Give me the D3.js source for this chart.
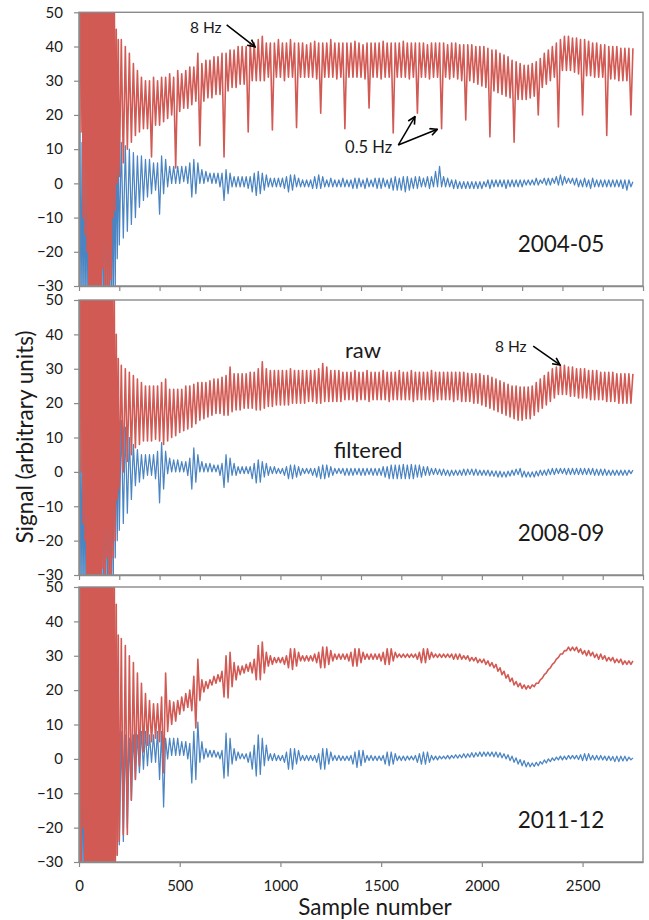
<!DOCTYPE html>
<html>
<head>
<meta charset="utf-8">
<script src="https://cdn.jsdelivr.net/npm/d3@7"></script>
<style>
  body { margin: 0; background: #fff; }
  text { font-family: Lato, "Open Sans", sans-serif; fill: #1a1a1a; }
</style>
</head>
<body>
<script>
// hand-read traces: dense samples at the onset, then one trough and one
// crest per 20 samples (trough at s, crest at s + 10)
const onsetStep = 5;      // samples 0..195
const mainStart = 200;
const pairStep = 20;      // samples 200..2750

const periods = ["2004-05", "2008-09", "2011-12"];
const yTicks = [-30, -20, -10, 0, 10, 20, 30, 40, 50];
const xTicksMinor = [0, 200, 400, 600, 800, 1000, 1200, 1400, 1600, 1800, 2000, 2200, 2400, 2600, 2800];
const xTickLabels = [0, 500, 1000, 1500, 2000, 2500];

// ---- 2004-05 ----
const raw0405Onset = [25, 90, 15, 90, -10, 90, -15, 90, -20, 90,
  -60, 90, -60, 90, -60, 90, -60, 90, -60, 90,
  -60, 90, -60, 90, -25, 90, -60, 90, -30, 90,
  -60, 85, -28, 70, -10, 60, -8, 45, 0, 42];
const raw0405Low = [2, 6, 10, 12, 14, 15, 16, 16, 7.7, 17,
  17, 18, 19, 20, 4.5, 21, 22, 22, 23, 24,
  11, 24, 25, 25, 26, 26, 7.7, 27, 28, 28,
  29, 29, 15, 30, 30, 30, 30, 31, 15.6, 31,
  31, 30, 31, 31, 16.3, 31, 31, 31, 31, 30.5,
  20.5, 31, 31, 31, 30.5, 31, 16, 31, 31, 31,
  31, 30.5, 22, 31, 31, 30.5, 31, 31, 14.7, 31,
  31, 31, 30.5, 31, 20.5, 31, 31, 30.5, 31, 31,
  16, 31, 30.5, 31, 30.5, 30, 18.5, 30, 29.5, 29,
  28.5, 28, 13.6, 27, 26.5, 26, 25.5, 25, 12, 24.5,
  24.5, 24.5, 25, 25.5, 20, 28, 29, 30, 31, 16.5,
  33, 33, 33, 32.5, 32, 20, 31.5, 31.5, 31, 31,
  31, 14, 30.5, 30.5, 30, 30, 30, 20];
const raw0405High = [42, 40, 38, 35, 33, 31, 30, 30, 31, 30,
  31, 31, 32, 31, 33, 32, 33, 34, 34, 38,
  35, 36, 36, 37, 37, 38, 38, 39, 39, 40,
  40, 40, 41, 41, 42, 43, 41, 41, 41, 42,
  41, 41, 42, 41, 41, 41, 40.5, 41, 41.5, 41,
  41, 41, 42, 41, 41, 41, 41, 41, 41.5, 41,
  40.5, 41, 41, 41, 41, 41.5, 41, 41, 41, 41,
  41.5, 41, 41, 41, 41, 41, 40.5, 41, 41, 41,
  41, 40.5, 41, 41, 40.5, 40.5, 40.5, 40.5, 40, 40,
  40, 39.5, 39, 39, 38, 37.5, 37, 36, 35.5, 35,
  34.5, 34.5, 35, 35.5, 36.5, 38, 39, 40, 41, 42,
  43, 43, 42.5, 42.5, 42, 42, 41.5, 41, 41, 40.5,
  40.5, 40, 40, 40, 39.5, 39.5, 39.5, 39.5];
const filt0405Onset = [-5, 15, -40, 12, -40, 10, -40, 6, -40, 9,
  -40, 11, -40, 8, -40, 12, -40, 10, -40, 9,
  -40, 11, -40, 8, -40, 12, -40, 10, -40, 9,
  -40, 11, -40, 8, -40, 12, -30, 14, -22, 13];
const filt0405Low = [-18, -16, -14, -12, -10, -7, -5, -4, -3, -2,
  -9, -3, -1, 0, 0, 0, 0.5, 0, -4, -3,
  0, 0, 0.5, 0, 0, -1, -5, -3, -1, -1,
  -1, -1, -1.5, -2.5, -3.5, -3, -2, -1, -1, -1,
  -1, -1.5, -2.5, -2, -1, -1, -1, -1, -1.5, -1.5,
  -1.5, -1, -1, -1, -1, -1, -1, -1, -1.5, -1.5,
  -1, -1.5, -1, -1, -1.5, -1.5, -1, -1.5, -2, -2,
  -2, -2.5, -2, -1.5, -1.5, -1, -1, -1.5, -1, -1,
  -1, -1, -1, -1.5, -1.5, -1.5, -1.5, -1.5, -1.5, -1.5,
  -1.5, -1, -1.5, -1, -1, -1, -1.5, -1, -1, -1,
  -1, -0.5, -0.5, -0.5, -0.5, 0, -0.5, -0.5, 0, -0.5,
  -0.5, 0, 0, -0.5, -1, -1, -1, -1.5, -1, -1,
  -1, -1, -1, -1, -1, -1.5, -2, -1];
const filt0405High = [12, 11, 10, 9, 8, 8, 7, 7, 6, 6,
  8, 7, 5, 5, 5, 5, 5, 6, 7, 6,
  4, 3.5, 3, 3, 3, 3, 4, 3, 2, 2,
  2, 2, 2, 3, 3.5, 3, 2.5, 1.5, 1.5, 1.5,
  1.5, 2, 2.5, 2.5, 1.5, 1, 1, 1, 2, 2.5,
  2, 1, 1.5, 1, 1, 1.5, 1, 1, 1.5, 1.5,
  1, 1.5, 1, 1.5, 1.5, 1.5, 1, 1.5, 2, 1.5,
  2, 2, 1.5, 2, 2, 1.5, 2, 2, 3.5, 5,
  2, 1.5, 1, 1, 0.5, 0.5, 0.5, 0.5, 0.5, 0.5,
  0.5, 1, 1, 1, 1, 1, 1, 1, 1, 1,
  1, 1, 1, 1.5, 1, 1.5, 1.5, 1.5, 2, 2.5,
  2, 1.5, 1.5, 1.5, 1, 1.5, 1, 1.5, 1, 1,
  1, 1, 1, 1, 1, 1, 1, 0.5];

// ---- 2008-09 ----
const raw0809Onset = [10, 90, 0, 90, -15, 90, -20, 90, -60, 90,
  -60, 90, -60, 90, -60, 90, -60, 90, -60, 90,
  -60, 90, -60, 90, -28, 90, -60, 90, -25, 90,
  -60, 90, -30, 70, -25, 55, -20, 40, -8, 33];
const raw0809Low = [-5, 0, 3, 5, 7, 8, 9, 9, 9, 9.5,
  9, 8, 9, 10, 10.5, 11.5, 12, 12.5, 13, 14,
  15, 15.5, 16, 16.5, 17, 17, 16.5, 16.5, 17.5, 18,
  18, 18.5, 18.5, 18.5, 18, 18, 18.5, 19, 19, 19.5,
  19.5, 19.5, 19.5, 20, 20, 20, 20, 20.5, 20.5, 20,
  20, 20.5, 20.5, 20.5, 20.5, 20.5, 21, 21, 21, 20.5,
  21, 21, 20.5, 21, 21, 21, 21, 20.5, 21, 21,
  21, 21, 21, 20.5, 21, 21, 21, 21, 20.5, 21,
  21, 21, 21, 20.5, 21, 20.5, 20.5, 20.5, 20, 20,
  19.5, 19, 18.5, 18, 17.5, 17, 16.5, 16, 15.5, 15,
  15, 15.5, 15.5, 16.5, 17.5, 18.5, 19.5, 20.5, 21.5, 22.5,
  22.5, 22.5, 22, 22, 21.5, 21.5, 21.5, 21, 21, 21,
  21, 20.5, 20.5, 20.5, 20, 20, 20, 20];
const raw0809High = [31, 30, 29, 28, 27, 26, 25, 25, 25, 25,
  26, 27, 24, 24, 24, 24, 25, 25, 25.5, 26,
  26, 26, 26.5, 27, 27, 27.5, 28, 30.5, 28.5, 28.5,
  28.5, 28.5, 29, 29, 30, 32, 30, 29.5, 29.5, 29.5,
  29.5, 29.5, 30, 29.5, 29.5, 29.5, 29.5, 29.5, 29.5, 30,
  31.5, 30.5, 29.5, 29.5, 29.5, 29, 29, 29, 29.5, 29,
  29, 29.5, 29, 29, 29, 29.5, 29, 29, 29, 29.5,
  29, 29, 29.5, 29, 29, 29, 29, 29.5, 29, 29,
  29, 29, 29, 29, 29, 29, 28.7, 28.5, 28.5, 28.5,
  28, 28, 27.5, 27, 26.5, 26, 25.5, 25, 25, 24.7,
  24.7, 24.7, 25, 26, 27, 28, 29, 30, 30.5, 31,
  31, 30.5, 30.5, 30, 30, 30, 29.5, 29.5, 29.5, 29,
  29, 29, 29, 28.5, 28.5, 28.5, 28.5, 28.5];
const filt0809Onset = [0, 14, -40, 12, -40, 9, -40, 11, -40, 8,
  -40, 12, -40, 10, -40, 9, -40, 11, -40, 8,
  -40, 12, -40, 10, -40, 9, -40, 11, -40, 8,
  -40, 12, -40, 10, -35, 15, -25, 14, -20, 15];
const filt0809Low = [-17, -15, -12, -8, -4, -3, -2, -1, -1, -2,
  -9, -5, -0.5, 0, 0, 0, 0, -1, -5, -3,
  0, 0, 0, 0, 0, -1, -4.5, -3, -1, -1,
  -0.5, -0.5, -0.5, -2, -3.2, -3, -1.5, -1, -0.5, -0.5,
  -0.5, -1, -2, -2, -1.5, -1, -0.5, -0.5, -1, -1.5,
  -2, -2, -1.5, -1, -0.5, -0.5, -1, -1, -1, -0.8,
  -1, -1, -0.8, -1, -1, -1, -1.5, -2, -2, -2,
  -2, -2, -2, -2, -1.5, -1.5, -1, -1, -0.8, -0.8,
  -1, -1, -1.2, -1, -1, -1, -1, -0.8, -1, -1,
  -1, -1, -1.2, -1.3, -1.5, -1.5, -1.5, -1.2, -1, -0.8,
  -1.5, -1.5, -1.5, -1.5, -1.2, -1, -1, -0.8, -0.8, -0.5,
  -0.5, -0.8, -0.8, -0.8, -0.8, -0.8, -0.8, -0.8, -1, -1,
  -1, -1, -1, -1, -1, -1, -1, -0.5];
const filt0809High = [15, 13, 10, 8, 6.5, 5, 5, 5, 5, 6,
  8.5, 6, 4, 3.5, 3.5, 3, 3, 4, 7, 5,
  3, 2.5, 2.5, 2, 2, 2.5, 5, 4, 2.5, 1.5,
  1.5, 1.5, 1.5, 2.5, 3.5, 3, 2.5, 1.5, 1.5, 1,
  1, 1.5, 2, 2, 1.5, 1, 1, 1, 1, 1.5,
  2, 2, 1.5, 1, 1, 1, 1, 1, 1, 1,
  1, 1, 1, 1, 1, 1.5, 1.5, 2, 2, 2,
  2.2, 2, 2.2, 2, 2, 1.5, 1.5, 1, 1, 0.8,
  0.8, 0.5, 0.5, 0.5, 0.5, 0.8, 0.8, 0.8, 0.8, 0.5,
  0.5, 0.5, 0.3, 0.3, 0.2, 0, 0.2, 0.5, 0.8, 1,
  0.2, 0, 0, 0.2, 0.5, 0.5, 0.8, 1, 1, 1,
  1, 1, 1, 1, 1, 1, 1, 1, 0.8, 0.8,
  0.8, 0.5, 0.5, 0.5, 0.5, 0.5, 0.5, 0.5];

// ---- 2011-12 ----
const raw1112Onset = [20, 90, -60, 90, -20, 90, -60, 90, -60, 90,
  -60, 90, -60, 90, -60, 90, -60, 90, -60, 90,
  -60, 90, -60, 90, -60, 90, -60, 90, -60, 90,
  -60, 90, -60, 90, -60, 60, -40, 45, -28, 36];
const raw1112Low = [-24, -22, -22, -12, -6, -2, 2, 4, 5, 6,
  5, -4, 8, 10, 11, 13, 14, 15, 14, 9,
  17, 19.5, 20.5, 21.5, 22, 22.5, 18, 17.7, 21, 23,
  24.5, 25, 25.5, 25, 23, 23, 25, 27, 27.5, 28,
  28, 27.5, 26.5, 26, 27, 28.5, 28.5, 28.5, 28.5, 28,
  26.5, 26.5, 27.5, 28.5, 29, 29, 29, 28.5, 27, 27,
  28, 29, 29, 29, 29, 28.5, 27.5, 27.5, 28.5, 29.5,
  29.5, 29.5, 29.5, 29.5, 29, 28, 28, 29, 29.5, 29.5,
  29.5, 29.5, 29.5, 29, 29, 29, 29, 28.5, 28.5, 28,
  28, 27.5, 27, 26.5, 25.5, 24.5, 23.5, 22.5, 21.5, 21,
  20.5, 20.3, 20.5, 21, 22, 23.5, 25, 26.5, 28, 29.5,
  30.5, 31.5, 31.5, 31.5, 31, 30.5, 30, 30, 29.5, 29,
  29, 28.5, 28.5, 28, 28, 27.5, 27.5, 27.5];
const raw1112High = [35, 33, 30, 28, 25, 22, 19, 17, 16, 16,
  18, 25, 17, 16.5, 17, 18, 19, 20, 24, 29,
  23, 22.5, 23, 24, 24.5, 25.5, 30, 31, 28, 27,
  27, 27.5, 28, 29, 33, 34, 31, 30, 29.5, 29.5,
  29.5, 30, 32, 32, 31, 30, 30, 30, 30.5, 31,
  32.5, 32.5, 31.5, 30.5, 30.5, 30.5, 30.5, 31, 32, 32,
  31, 30.5, 30.5, 30.5, 30.5, 31, 32, 32, 31, 30.5,
  30.5, 30.5, 30.5, 30.5, 31, 32, 32, 31, 30.5, 30.5,
  30.5, 30.5, 30.5, 30.5, 30.5, 30, 30, 29.5, 29.5, 29,
  29, 28.5, 28, 27.5, 26.5, 25.5, 24.5, 23.5, 22.5, 22,
  21.5, 21.3, 21.5, 22, 23, 24.5, 26, 27.5, 29, 30.5,
  31.5, 32.5, 32.5, 32.5, 32, 31.5, 31.5, 31, 30.5, 30.5,
  30, 29.5, 29.5, 29, 29, 28.5, 28.5, 28.5];
const filt1112Onset = [0, 13, -20, 10, -40, 8, -40, 12, -40, 10,
  -40, 9, -40, 11, -40, 8, -40, 12, -40, 10,
  -40, 9, -40, 11, -40, 8, -40, 12, -40, 10,
  -40, 9, -40, 11, -35, 10, -30, 9, -28, 8];
const filt1112Low = [-25, -24, -20, -12, -6, -4, -3, -2, -1, -1,
  -6, -14, 0, 1, 1, 1, 1, 0, -7, -6,
  -1, 0, 0.5, 0.5, 0.5, 0, -5.6, -5, -1.5, -0.5,
  0, 0, -1, -3, -5, -4.5, -2, -0.5, -0.5, -0.5,
  -0.5, -1, -3, -3, -1.5, -0.5, -0.5, -0.5, -0.5, -1,
  -3, -3, -1.5, -0.5, -0.5, -0.5, -0.5, -0.5, -1.5, -2.5,
  -2, -1, -0.5, -0.5, -0.5, -0.5, -1.5, -2, -1.5, -0.5,
  -0.5, -0.5, -0.3, -0.3, -1, -1.5, -1.5, -1, -0.3, -0.3,
  0, 0, 0, 0.2, 0.2, 0.3, 0.3, 0.5, 0.5, 0.7,
  0.7, 0.8, 0.8, 0.6, 0.5, 0.3, 0, -0.5, -1, -1.5,
  -2, -2.3, -2.3, -2.2, -2, -1.5, -1.2, -0.8, -0.5, -0.3,
  -0.3, -0.2, 0, 0, -0.2, -0.5, -0.5, -0.3, -0.3, -0.3,
  -0.3, -0.5, -0.5, -0.8, -0.8, -0.6, -0.6, -0.3];
const filt1112High = [8, 7, 6, 7, 7, 8, 8, 7, 7, 8,
  8, 6, 6, 6, 6, 5, 5, 4.5, 8, 10.7,
  5, 3, 2.5, 2.5, 2, 2.5, 7.5, 6, 3, 2,
  1.5, 1.5, 2, 4, 7, 6, 4, 1.5, 1.5, 1,
  1, 2, 3, 3, 2.5, 1, 1, 1, 1, 1.5,
  3, 3, 2, 1, 1, 0.8, 0.8, 1, 2, 2.5,
  2.5, 1, 1, 0.8, 0.8, 1, 2, 2, 1.5, 0.8,
  0.8, 0.8, 0.8, 1, 1.5, 2, 2, 1, 0.8, 0.8,
  0.8, 1, 1, 1.2, 1.2, 1.5, 1.5, 1.8, 1.8, 2,
  2, 2, 2, 2, 1.8, 1.5, 1.2, 0.8, 0.3, -0.2,
  -0.5, -1, -1.2, -1, -0.8, -0.3, 0, 0.3, 0.5, 0.8,
  0.8, 1, 1, 1, 1.2, 1.5, 1.5, 1, 1, 1,
  0.8, 0.8, 0.7, 0.8, 0.8, 0.8, 0.5, 0.3];

// annotations in data units (sample, value)
const arrows = [
  {panel: 0, from: [733, 46.3], to: [874, 39.9]},
  {panel: 0, from: [1585, 11.2], to: [1668, 19.5]},
  {panel: 0, from: [1585, 11.2], to: [1779, 15.8]},
  {panel: 1, from: [2255, 36.6], to: [2388, 31.1]}
];
const notes = [
  {panel: 0, text: "8 Hz", at: [551, 43.9], anchor: "start", size: 15.5},
  {panel: 0, text: "0.5 Hz", at: [1321, 8.9], anchor: "start", size: 16.5},
  {panel: 1, text: "raw", at: [1410, 33.1], anchor: "middle", size: 22},
  {panel: 1, text: "filtered", at: [1435, 4.0], anchor: "middle", size: 22},
  {panel: 1, text: "8 Hz", at: [2065, 34.9], anchor: "start", size: 15.5}
];

const width = 649;
const height = 920;
const red = "#d25a54";
const blue = "#4a84c2";
const frameColor = "#8a8a8a";

const svg = d3.select("body").append("svg")
    .attr("width", width)
    .attr("height", height);

svg.append("defs").append("marker")
    .attr("id", "arrow")
    .attr("viewBox", "0 0 10 10")
    .attr("refX", 9).attr("refY", 5)
    .attr("markerWidth", 9).attr("markerHeight", 9)
    .attr("markerUnits", "userSpaceOnUse")
    .attr("orient", "auto")
    .append("path")
    .attr("d", "M1,1 L9,5 L1,9")
    .attr("fill", "none")
    .attr("stroke", "#000")
    .attr("stroke-width", 1.8);

function toPoints(onset, lows, highs) {
    const pts = onset.map((v, i) => [i * onsetStep, v]);
    lows.forEach((lo, i) => {
        const s = mainStart + i * pairStep;
        pts.push([s, lo]);
        pts.push([s + pairStep / 2, highs[i]]);
    });
    return pts;
}

const x = d3.scaleLinear().domain([0, 2800]).range([79, 643]);

const panels = [
    {top: 12.3, bottom: 286,
     raw: toPoints(raw0405Onset, raw0405Low, raw0405High),
     filt: toPoints(filt0405Onset, filt0405Low, filt0405High)},
    {top: 300, bottom: 575,
     raw: toPoints(raw0809Onset, raw0809Low, raw0809High),
     filt: toPoints(filt0809Onset, filt0809Low, filt0809High)},
    {top: 587, bottom: 862,
     raw: toPoints(raw1112Onset, raw1112Low, raw1112High),
     filt: toPoints(filt1112Onset, filt1112Low, filt1112High)}
];

panels.forEach((p, k) => {
    const y = d3.scaleLinear().domain([-30, 50]).range([p.bottom, p.top]);
    p.y = y;
    const g = svg.append("g");

    g.append("clipPath").attr("id", "clip" + k)
        .append("rect")
        .attr("x", x(0)).attr("y", p.top)
        .attr("width", x(2800) - x(0)).attr("height", p.bottom - p.top);

    const line = d3.line().x(d => x(d[0])).y(d => y(d[1]));
    const traces = g.append("g").attr("clip-path", `url(#clip${k})`);
    traces.append("path").datum(p.filt)
        .attr("d", line).attr("fill", "none")
        .attr("stroke", blue).attr("stroke-width", 1.25).attr("stroke-linejoin", "round");
    traces.append("path").datum(p.raw)
        .attr("d", line).attr("fill", "none")
        .attr("stroke", red).attr("stroke-width", 1.6).attr("stroke-linejoin", "round");

    // frame
    g.append("rect")
        .attr("x", x(0)).attr("y", p.top)
        .attr("width", x(2800) - x(0)).attr("height", p.bottom - p.top)
        .attr("fill", "none").attr("stroke", frameColor).attr("stroke-width", 1.4);

    const yAxis = g.append("g")
        .attr("transform", `translate(${x(0)},0)`)
        .call(d3.axisLeft(y).tickValues(yTicks).tickSize(5).tickSizeOuter(0).tickPadding(11));
    yAxis.selectAll("text").attr("font-size", 15).attr("font-family", "Lato");

    const xAxis = d3.axisBottom(x).tickSize(5).tickSizeOuter(0);
    if (k < 2) {
        xAxis.tickValues(xTicksMinor).tickFormat("");
    } else {
        xAxis.tickValues(xTickLabels).tickFormat(d3.format("d")).tickPadding(13);
    }
    const xg = g.append("g")
        .attr("transform", `translate(0,${p.bottom})`)
        .call(xAxis);
    xg.selectAll("text").attr("font-size", 15).attr("font-family", "Lato");

    [yAxis, xg].forEach(a => {
        a.select(".domain").attr("stroke", frameColor).attr("stroke-width", 1.4);
        a.selectAll(".tick line").attr("stroke", frameColor).attr("stroke-width", 1.2);
        a.selectAll(".tick text").attr("fill", "#1a1a1a");
    });

    g.append("text")
        .attr("x", x(2393)).attr("y", y(-20.2))
        .attr("text-anchor", "middle")
        .attr("font-size", 22.5)
        .text(periods[k]);
});

arrows.forEach(a => {
    const y = panels[a.panel].y;
    svg.append("line")
        .attr("x1", x(a.from[0])).attr("y1", y(a.from[1]))
        .attr("x2", x(a.to[0])).attr("y2", y(a.to[1]))
        .attr("stroke", "#000").attr("stroke-width", 1.5)
        .attr("marker-end", "url(#arrow)");
});

notes.forEach(n => {
    const y = panels[n.panel].y;
    svg.append("text")
        .attr("x", x(n.at[0])).attr("y", y(n.at[1]))
        .attr("text-anchor", n.anchor)
        .attr("font-size", n.size)
        .text(n.text);
});

svg.append("text")
    .attr("transform", "translate(33,437) rotate(-90)")
    .attr("text-anchor", "middle")
    .attr("font-size", 22.5)
    .text("Signal (arbitrary units)");

svg.append("text")
    .attr("x", 375).attr("y", 915)
    .attr("text-anchor", "middle")
    .attr("font-size", 22.5)
    .text("Sample number");
</script>
</body>
</html>
